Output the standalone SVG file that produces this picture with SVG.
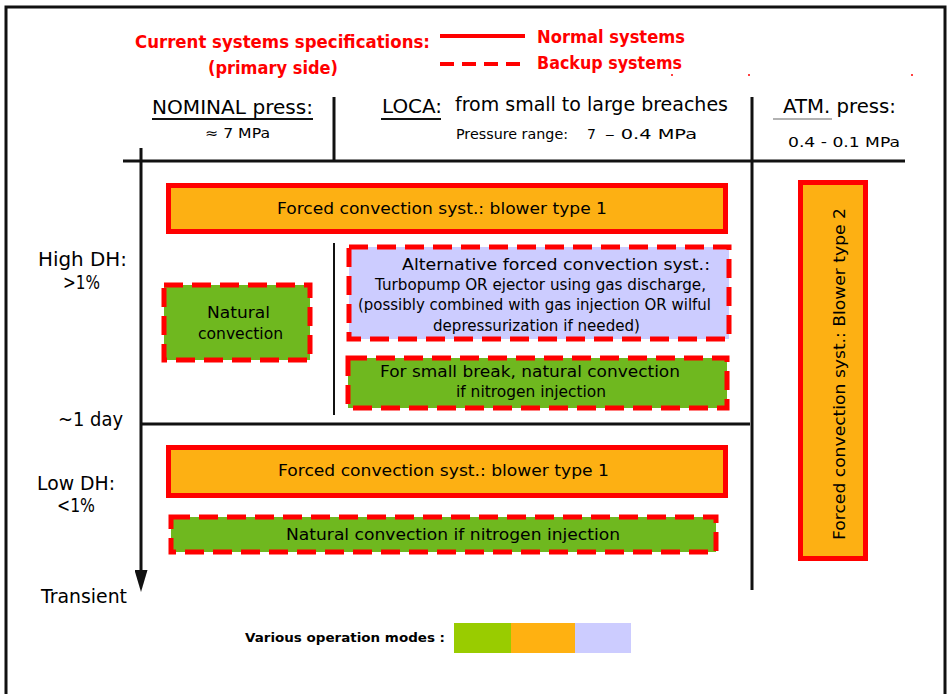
<svg xmlns="http://www.w3.org/2000/svg" width="952" height="694" viewBox="0 0 952 694">
<style>
text{font-family:"DejaVu Sans","Liberation Sans",sans-serif;fill:#000}
.t{font-size:16px}
.a{font-size:15px}
.s{font-size:14px}
.h{font-size:19px}
.r{fill:#ff0000;font-size:17px;font-weight:bold}
.ln{stroke:#111;stroke-width:3;fill:none}
.thin{stroke:#111;stroke-width:2;fill:none}
.solid{fill:#fdb013;stroke:#ff0000;stroke-width:5}
.dash{stroke:#ff0000;stroke-width:5;stroke-dasharray:19 9;fill:none}
.green{fill:#6fb81f}
.lav{fill:#ccccff}
</style>
<defs>
<marker id="ah" viewBox="0 0 22 13" refX="2" refY="6.5" markerWidth="22" markerHeight="13" markerUnits="userSpaceOnUse" orient="auto">
<path d="M0,0 L22,6.5 L0,13 Z" fill="#111"/>
</marker>
</defs>
<rect x="6" y="7" width="939" height="700" fill="#fff" stroke="#111" stroke-width="3"/>
<g id="legend-top">
<text class="r" x="135" y="48" textLength="295" lengthAdjust="spacingAndGlyphs">Current systems specifications:</text>
<text class="r" x="208" y="74" textLength="130" lengthAdjust="spacingAndGlyphs">(primary side)</text>
<line x1="440" y1="36" x2="525" y2="36" stroke="#ff0000" stroke-width="4"/>
<line x1="440" y1="64" x2="525" y2="64" stroke="#ff0000" stroke-width="4" stroke-dasharray="14 8"/>
<text class="r" x="537" y="43" textLength="148" lengthAdjust="spacingAndGlyphs">Normal systems</text>
<text class="r" x="537" y="69" textLength="145" lengthAdjust="spacingAndGlyphs">Backup systems</text>
<circle cx="672" cy="75" r="1" fill="#ff0000"/>
<circle cx="749" cy="75" r="1" fill="#ff0000"/>
<circle cx="912" cy="75" r="1" fill="#ff0000"/>
</g>
<g id="header">
<text class="h" x="152" y="114" textLength="161" lengthAdjust="spacingAndGlyphs">NOMINAL press:</text>
<line x1="152" y1="119" x2="313" y2="119" stroke="#111" stroke-width="2"/>
<text class="s" x="205" y="138" textLength="65" lengthAdjust="spacingAndGlyphs">≈ 7 MPa</text>
<text class="h" x="382" y="113" textLength="60" lengthAdjust="spacingAndGlyphs">LOCA:</text>
<line x1="381" y1="119" x2="441" y2="119" stroke="#111" stroke-width="2"/>
<text class="h" x="455" y="111" textLength="273" lengthAdjust="spacingAndGlyphs">from small to large breaches</text>
<text class="s" x="456" y="139" textLength="112" lengthAdjust="spacingAndGlyphs">Pressure range:</text>
<text class="s" x="587" y="139">7</text>
<text class="s" x="605" y="139" textLength="92" lengthAdjust="spacingAndGlyphs">– 0.4 MPa</text>
<text class="h" x="783" y="113" textLength="113" lengthAdjust="spacingAndGlyphs">ATM. press:</text>
<line x1="773" y1="119" x2="832" y2="119" stroke="#999" stroke-width="1.5"/>
<text class="s" x="788" y="147" textLength="112" lengthAdjust="spacingAndGlyphs">0.4 - 0.1 MPa</text>
</g>
<g id="axes">
<line class="ln" x1="334" y1="97" x2="334" y2="161"/>
<line class="ln" x1="752" y1="97" x2="752" y2="590"/>
<line class="ln" x1="123" y1="161" x2="905" y2="161"/>
<line class="ln" x1="141" y1="148" x2="141" y2="572" marker-end="url(#ah)"/>
<line class="ln" x1="141" y1="424" x2="750" y2="424"/>
<line class="thin" x1="334" y1="243" x2="334" y2="415"/>
</g>
<g id="row-labels">
<text class="h" x="38" y="266" textLength="89" lengthAdjust="spacingAndGlyphs">High DH:</text>
<text class="h" x="63" y="289" textLength="37" lengthAdjust="spacingAndGlyphs">&gt;1%</text>
<text class="h" x="58" y="426" textLength="65" lengthAdjust="spacingAndGlyphs">~1 day</text>
<text class="h" x="37" y="490" textLength="78" lengthAdjust="spacingAndGlyphs">Low DH:</text>
<text class="h" x="57" y="512" textLength="38" lengthAdjust="spacingAndGlyphs">&lt;1%</text>
<text class="h" x="41" y="603" textLength="86" lengthAdjust="spacingAndGlyphs">Transient</text>
</g>
<g id="forced-high">
<rect class="solid" x="168.5" y="185.5" width="557" height="46"/>
<text class="t" x="277" y="214" textLength="330" lengthAdjust="spacingAndGlyphs">Forced convection syst.: blower type 1</text>
</g>
<g id="natural-high">
<rect class="green" x="164" y="285" width="146" height="75"/>
<rect class="dash" x="164" y="285" width="146" height="75"/>
<text class="t" x="207" y="318" textLength="63" lengthAdjust="spacingAndGlyphs">Natural</text>
<text class="t" x="198" y="339" textLength="85" lengthAdjust="spacingAndGlyphs">convection</text>
</g>
<g id="alternative">
<rect class="lav" x="349" y="247" width="380" height="92"/>
<rect class="dash" x="349" y="247" width="380" height="92"/>
<text class="a" x="402" y="270" textLength="308" lengthAdjust="spacingAndGlyphs">Alternative forced convection syst.:</text>
<text class="a" x="375" y="290" textLength="331" lengthAdjust="spacingAndGlyphs">Turbopump OR ejector using gas discharge,</text>
<text class="a" x="358" y="310" textLength="353" lengthAdjust="spacingAndGlyphs">(possibly combined with gas injection OR wilful</text>
<text class="a" x="433" y="331" textLength="207" lengthAdjust="spacingAndGlyphs">depressurization if needed)</text>
</g>
<g id="small-break">
<rect class="green" x="348" y="358" width="379" height="50"/>
<rect class="dash" x="348" y="358" width="379" height="50"/>
<text class="t" x="380" y="377" textLength="300" lengthAdjust="spacingAndGlyphs">For small break, natural convection</text>
<text class="t" x="456" y="397" textLength="150" lengthAdjust="spacingAndGlyphs">if nitrogen injection</text>
</g>
<g id="forced-low">
<rect class="solid" x="168.5" y="447.5" width="557" height="48"/>
<text class="t" x="278" y="476" textLength="331" lengthAdjust="spacingAndGlyphs">Forced convection syst.: blower type 1</text>
</g>
<g id="natural-low">
<rect class="green" x="171" y="517" width="545" height="35"/>
<rect class="dash" x="171" y="517" width="545" height="35"/>
<text class="t" x="286" y="540" textLength="334" lengthAdjust="spacingAndGlyphs">Natural convection if nitrogen injection</text>
</g>
<g id="forced-atm">
<rect class="solid" x="800.5" y="182.5" width="65" height="376"/>
<text class="t" transform="translate(845,540) rotate(-90)" textLength="332" lengthAdjust="spacingAndGlyphs">Forced convection syst.: Blower type 2</text>
</g>
<g id="legend-bottom">
<text x="245" y="642" style="font-size:13px;font-weight:bold" textLength="200" lengthAdjust="spacingAndGlyphs">Various operation modes :</text>
<rect x="454" y="623" width="57" height="30" fill="#99cc00"/>
<rect x="511" y="623" width="64" height="30" fill="#ffb111"/>
<rect x="575" y="623" width="56" height="30" fill="#ccccff"/>
</g>
</svg>
